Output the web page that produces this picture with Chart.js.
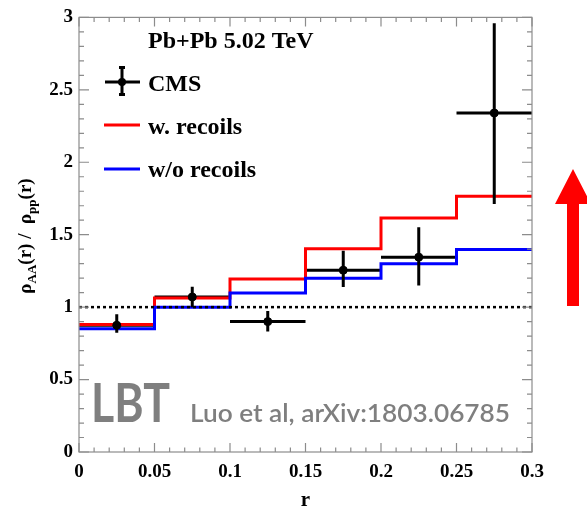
<!DOCTYPE html>
<html>
<head>
<meta charset="utf-8">
<script src="https://cdn.jsdelivr.net/npm/chart.js@4/dist/chart.umd.min.js"></script>
<style>
  html, body { margin: 0; padding: 0; background: #fff; }
  #wrap { width: 587px; height: 509px; }
</style>
</head>
<body>
<div id="wrap"><canvas id="rhoChart" width="587" height="509"></canvas></div>
<script>
// bin edges of the LBT histograms (r)
const binEdges = [0, 0.05, 0.1, 0.15, 0.2, 0.25, 0.3];
const withRecoils = [0.88, 1.063, 1.195, 1.403, 1.616, 1.765];
const withoutRecoils = [0.85, 1.0, 1.098, 1.2, 1.3, 1.398];

// CMS data points
const cmsR = [0.025, 0.075, 0.125, 0.175, 0.225, 0.275];
const cmsVal = [0.875, 1.07, 0.9, 1.255, 1.345, 2.34];
const cmsErrUp = [0.076, 0.07, 0.074, 0.135, 0.207, 0.62];
const cmsErrDown = [0.052, 0.07, 0.069, 0.116, 0.195, 0.628];
const cmsErrX = [0.025, 0.025, 0.025, 0.025, 0.025, 0.025];

const xTicks = [0, 0.05, 0.1, 0.15, 0.2, 0.25, 0.3];
const yTicks = [0, 0.5, 1, 1.5, 2, 2.5, 3];

const SERIF = "'Liberation Serif', 'Times New Roman', serif";
const SANS = "Lato, 'Open Sans', sans-serif";

function histPoints(values) {
    const pts = values.map((v, i) => ({ x: binEdges[i], y: v }));
    pts.push({ x: binEdges[binEdges.length - 1], y: values[values.length - 1] });
    return pts;
}

const decorations = {
    id: "decorations",
    // horizontal CMS bars go under the histograms
    beforeDatasetsDraw(chart) {
        const { ctx, scales: { x, y } } = chart;
        ctx.save();
        ctx.strokeStyle = "#000";
        ctx.lineWidth = 3;
        ctx.beginPath();
        cmsR.forEach((r, i) => {
            const py = y.getPixelForValue(cmsVal[i]);
            ctx.moveTo(x.getPixelForValue(r - cmsErrX[i]), py);
            ctx.lineTo(x.getPixelForValue(r + cmsErrX[i]), py);
        });
        ctx.stroke();
        ctx.restore();
    },
    beforeDatasetDraw(chart, args) {
        if (chart.data.datasets[args.index].label !== "CMS") return;
        const { ctx, scales: { x, y } } = chart;
        ctx.save();
        ctx.strokeStyle = "#000";
        ctx.lineWidth = 3;
        ctx.beginPath();
        cmsR.forEach((r, i) => {
            const px = x.getPixelForValue(r);
            ctx.moveTo(px, y.getPixelForValue(cmsVal[i] - cmsErrDown[i]));
            ctx.lineTo(px, y.getPixelForValue(cmsVal[i] + cmsErrUp[i]));
        });
        ctx.stroke();
        ctx.restore();
    },
    afterDraw(chart) {
        const { ctx, chartArea: a, scales: { x, y } } = chart;
        ctx.save();

        // frame
        ctx.strokeStyle = "#8c8c8c";
        ctx.lineWidth = 1.2;
        ctx.strokeRect(a.left, a.top, a.right - a.left, a.bottom - a.top);

        // inward ticks
        ctx.beginPath();
        for (let k = 0; k <= 30; k++) {
            const v = k / 100;
            const len = k % 5 === 0 ? 9 : 4.5;
            const px = x.getPixelForValue(v);
            ctx.moveTo(px, a.bottom); ctx.lineTo(px, a.bottom - len);
            ctx.moveTo(px, a.top); ctx.lineTo(px, a.top + len);
        }
        for (let k = 0; k <= 30; k++) {
            const v = k / 10;
            const len = k % 5 === 0 ? 10 : 5;
            const py = y.getPixelForValue(v);
            ctx.moveTo(a.left, py); ctx.lineTo(a.left + len, py);
            ctx.moveTo(a.right, py); ctx.lineTo(a.right - len, py);
        }
        ctx.stroke();

        // legend
        ctx.fillStyle = "#000";
        ctx.textBaseline = "alphabetic";
        ctx.textAlign = "left";
        ctx.font = "bold 24px " + SERIF;
        ctx.fillText("Pb+Pb 5.02 TeV", 148, 48);
        ctx.fillText("CMS", 148, 91);
        ctx.fillText("w. recoils", 148, 134);
        ctx.fillText("w/o recoils", 148, 177);

        ctx.strokeStyle = "#000";
        ctx.lineWidth = 3;
        ctx.beginPath();
        ctx.moveTo(105, 82); ctx.lineTo(140, 82);
        ctx.moveTo(122, 67); ctx.lineTo(122, 95);
        ctx.moveTo(119, 67.5); ctx.lineTo(125, 67.5);
        ctx.moveTo(119, 94.5); ctx.lineTo(125, 94.5);
        ctx.stroke();
        ctx.beginPath();
        ctx.arc(122, 82, 4, 0, Math.PI * 2);
        ctx.fill();

        ctx.strokeStyle = "#ff0000";
        ctx.beginPath(); ctx.moveTo(104, 125); ctx.lineTo(140, 125); ctx.stroke();
        ctx.strokeStyle = "#0000ff";
        ctx.beginPath(); ctx.moveTo(104, 169); ctx.lineTo(140, 169); ctx.stroke();

        // x axis title
        ctx.font = "bold 21px " + SERIF;
        ctx.textAlign = "center";
        ctx.fillText("r", (a.left + a.right) / 2, 506);

        // y axis title with subscripts
        ctx.save();
        ctx.translate(31, 236);
        ctx.rotate(-Math.PI / 2);
        ctx.textAlign = "left";
        const big = "bold 19px " + SERIF;
        const small = "bold 13px " + SERIF;
        const parts = [
            ["ρ", big, 0], ["AA", small, 5], ["(r) /  ρ", big, 0], ["pp", small, 5], ["(r)", big, 0]
        ];
        let total = 0;
        parts.forEach(p => { ctx.font = p[1]; total += ctx.measureText(p[0]).width; });
        let cx = -total / 2;
        parts.forEach(p => {
            ctx.font = p[1];
            ctx.fillText(p[0], cx, p[2]);
            cx += ctx.measureText(p[0]).width;
        });
        ctx.restore();

        // LBT watermark
        ctx.fillStyle = "#7f7f7f";
        ctx.textAlign = "left";
        const fitText = (txt, left, right, base, font) => {
            ctx.font = font;
            const w = ctx.measureText(txt).width;
            ctx.save();
            ctx.translate(left, base);
            ctx.scale((right - left) / w, 1);
            ctx.fillText(txt, 0, 0);
            ctx.restore();
        };
        fitText("LBT", 91, 170, 421.5, "bold 53px " + SANS);
        fitText("Luo et al, arXiv:1803.06785", 190, 510, 421.5, "600 25.5px " + SANS);

        // red arrow
        ctx.fillStyle = "#ff0000";
        ctx.beginPath();
        ctx.moveTo(567, 306);
        ctx.lineTo(579, 306);
        ctx.lineTo(579, 204);
        ctx.lineTo(591, 204);
        ctx.lineTo(573, 169);
        ctx.lineTo(555, 204);
        ctx.lineTo(567, 204);
        ctx.closePath();
        ctx.fill();

        ctx.restore();
    }
};

const chart = new Chart(document.getElementById("rhoChart"), {
    type: "scatter",
    data: {
        datasets: [
            {
                label: "CMS",
                data: cmsR.map((r, i) => ({ x: r, y: cmsVal[i] })),
                pointRadius: 4,
                pointBackgroundColor: "#000",
                pointBorderColor: "#000",
                order: 0,
                clip: false
            },
            {
                label: "unity",
                type: "line",
                data: [{ x: 0, y: 1 }, { x: 0.3, y: 1 }],
                borderColor: "#000",
                borderWidth: 2.5,
                borderDash: [3, 3],
                pointRadius: 0,
                fill: false,
                order: 1
            },
            {
                label: "w/o recoils",
                type: "line",
                data: histPoints(withoutRecoils),
                stepped: true,
                borderColor: "#0000ff",
                borderWidth: 3,
                pointRadius: 0,
                fill: false,
                order: 2
            },
            {
                label: "w. recoils",
                type: "line",
                data: histPoints(withRecoils),
                stepped: true,
                borderColor: "#ff0000",
                borderWidth: 3,
                pointRadius: 0,
                fill: false,
                order: 3
            }
        ]
    },
    options: {
        responsive: false,
        animation: false,
        layout: { padding: { top: 16, right: 55, left: 0, bottom: 0 } },
        plugins: {
            legend: { display: false },
            tooltip: { enabled: false }
        },
        scales: {
            x: {
                type: "linear",
                min: 0,
                max: 0.3,
                afterFit: s => { s.height = 57; },
                afterBuildTicks: s => { s.ticks = xTicks.map(v => ({ value: v })); },
                grid: { display: false, drawTicks: false },
                border: { display: false },
                ticks: {
                    padding: 9,
                    color: "#000",
                    maxRotation: 0,
                    font: { family: SERIF, size: 19, weight: "bold" },
                    callback: v => Number(v.toFixed(2)).toString()
                }
            },
            y: {
                type: "linear",
                min: 0,
                max: 3,
                afterFit: s => { s.width = 79; },
                afterBuildTicks: s => { s.ticks = yTicks.map(v => ({ value: v })); },
                grid: { display: false, drawTicks: false },
                border: { display: false },
                ticks: {
                    padding: 6,
                    color: "#000",
                    font: { family: SERIF, size: 19, weight: "bold" },
                    callback: v => Number(v.toFixed(1)).toString()
                }
            }
        }
    },
    plugins: [decorations]
});
</script>
</body>
</html>
